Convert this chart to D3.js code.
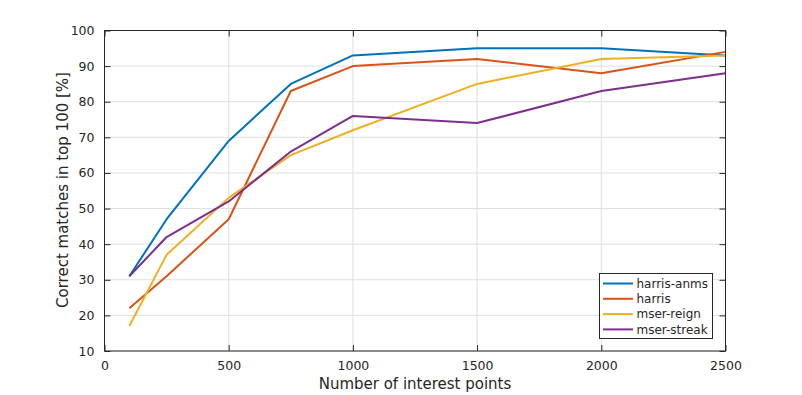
<!DOCTYPE html>
<html><head><meta charset="utf-8">
<script src="https://cdn.jsdelivr.net/npm/d3@7"></script>
<style>body{margin:0;background:#fff;} svg{display:block;}</style>
</head><body>
<svg id="c" width="802" height="395"></svg>
<script>
const xValues = [100, 250, 500, 750, 1000, 1500, 2000, 2500];
const seriesNames = ["harris-anms", "harris", "mser-reign", "mser-streak"];
const harrisAnms = [31, 47, 69, 85, 93, 95, 95, 93];
const harris = [22, 31, 47, 83, 90, 92, 88, 94];
const mserReign = [17, 37, 53, 65, 72, 85, 92, 93];
const mserStreak = [31, 42, 52, 66, 76, 74, 83, 88];
const xTicks = [0, 500, 1000, 1500, 2000, 2500];
const yTicks = [10, 20, 30, 40, 50, 60, 70, 80, 90, 100];
const colors = ["#0072BD", "#D95319", "#EDB120", "#7E2F8E"];
const allSeries = [harrisAnms, harris, mserReign, mserStreak];

const svg = d3.select("#c");
const L = 104.5, R = 725.5, T = 30.5, B = 351;
const x = d3.scaleLinear().domain([0, 2500]).range([L, R]);
const y = d3.scaleLinear().domain([10, 100]).range([B, T]);
const font = "DejaVu Sans, sans-serif";
const txt = "#262626";

// grid
svg.append("g").selectAll("line").data(xTicks).join("line")
  .attr("x1", d => x(d)).attr("x2", d => x(d)).attr("y1", T).attr("y2", B)
  .attr("stroke", "#dfdfdf").attr("stroke-width", 1);
svg.append("g").selectAll("line").data(yTicks).join("line")
  .attr("y1", d => y(d)).attr("y2", d => y(d)).attr("x1", L).attr("x2", R)
  .attr("stroke", "#dfdfdf").attr("stroke-width", 1);

// lines
const line = d3.line().x((d, i) => x(xValues[i])).y(d => y(d));
allSeries.forEach((s, k) => {
  svg.append("path").datum(s).attr("d", line).attr("fill", "none")
    .attr("stroke", colors[k]).attr("stroke-width", 2).attr("stroke-linejoin", "round");
});

// axes with inward ticks
const tl = 6;
const xb = d3.axisBottom(x).tickValues(xTicks).tickSize(-tl).tickPadding(10.5).tickFormat(d3.format("d"));
const xt = d3.axisTop(x).tickValues(xTicks).tickSize(-tl).tickFormat("");
const yl = d3.axisLeft(y).tickValues(yTicks).tickSize(-tl).tickPadding(10).tickFormat(d3.format("d"));
const yr = d3.axisRight(y).tickValues(yTicks).tickSize(-tl).tickFormat("");
function style(g) {
  g.select(".domain").remove();
  g.selectAll(".tick line").attr("stroke", txt);
  g.selectAll("text").attr("fill", txt).style("font-family", font).style("font-size", "12.5px");
}
svg.append("g").attr("transform", `translate(0,${B})`).call(xb).call(style);
svg.append("g").attr("transform", `translate(0,${T})`).call(xt).call(style);
svg.append("g").attr("transform", `translate(${L},0)`).call(yl).call(style);
svg.append("g").attr("transform", `translate(${R},0)`).call(yr).call(style);
svg.append("rect").attr("x", L).attr("y", T).attr("width", R - L).attr("height", B - T)
  .attr("fill", "none").attr("stroke", txt).attr("stroke-width", 1);

// labels
svg.append("text").attr("x", (L + R) / 2).attr("y", 389).attr("text-anchor", "middle")
  .attr("fill", txt).style("font-family", font).style("font-size", "15px").text("Number of interest points");
svg.append("text").attr("transform", `translate(67.5,190) rotate(-90)`).attr("text-anchor", "middle")
  .attr("fill", txt).style("font-family", font).style("font-size", "15px").text("Correct matches in top 100 [%]");

// legend
const lg = svg.append("g");
lg.append("rect").attr("x", 599.5).attr("y", 273.5).attr("width", 113).attr("height", 65)
  .attr("fill", "#fff").attr("stroke", txt).attr("stroke-width", 1);
seriesNames.forEach((n, i) => {
  const yy = 283.5 + i * 15.3;
  lg.append("line").attr("x1", 603).attr("x2", 633).attr("y1", yy).attr("y2", yy)
    .attr("stroke", colors[i]).attr("stroke-width", 2);
  lg.append("text").attr("x", 636.5).attr("y", yy + 4.3).attr("fill", txt)
    .style("font-family", font).style("font-size", "12px").text(n);
});
</script>
</body></html>
